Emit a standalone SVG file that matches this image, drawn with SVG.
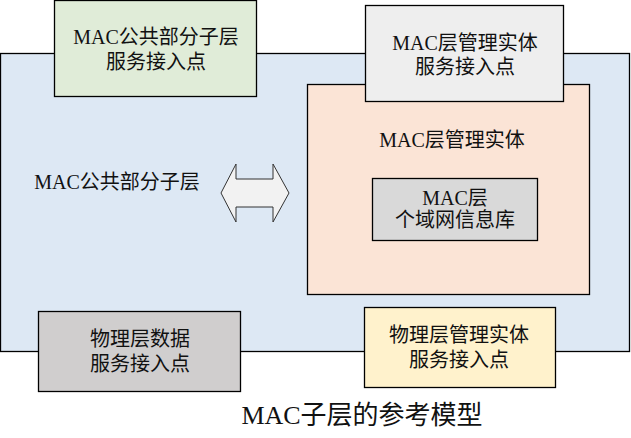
<svg xmlns="http://www.w3.org/2000/svg" width="631" height="438" viewBox="0 0 631 438">
<style>
.b{stroke:#000;stroke-width:1.3}
.t{font-family:"Liberation Serif","Noto Sans CJK SC",serif;font-size:20px;fill:#111;text-anchor:middle}
</style>
<rect width="631" height="438" fill="#fff"/>
<g id="mac-common">
<rect class="b" x="0.5" y="53.5" width="629" height="298" fill="#dde8f4"/>
<text class="t" x="117" y="189">MAC公共部分子层</text>
</g>
<g id="mac-mgmt">
<rect class="b" x="307.5" y="84.5" width="282" height="210" fill="#fbe4d6"/>
<text class="t" x="452" y="147">MAC层管理实体</text>
</g>
<g id="mac-sap">
<rect class="b" x="54.5" y="0.5" width="202" height="96" fill="#e0ecd8"/>
<text class="t" x="156" y="44">MAC公共部分子层</text>
<text class="t" x="156" y="69">服务接入点</text>
</g>
<g id="mlme-sap">
<rect class="b" x="365.5" y="5.5" width="198" height="96" fill="#eeeeee"/>
<text class="t" x="465" y="50">MAC层管理实体</text>
<text class="t" x="465" y="74">服务接入点</text>
</g>
<g id="pib">
<rect class="b" x="372.5" y="178.5" width="165" height="62" fill="#d9d9d9"/>
<text class="t" x="455" y="205">MAC层</text>
<text class="t" x="455" y="227">个域网信息库</text>
</g>
<g id="phy-data-sap">
<rect class="b" x="38.5" y="311.5" width="202" height="80" fill="#d0cece"/>
<text class="t" x="140" y="346">物理层数据</text>
<text class="t" x="140" y="371">服务接入点</text>
</g>
<g id="phy-mgmt-sap">
<rect class="b" x="364.5" y="307.5" width="191" height="80" fill="#fff2cc"/>
<text class="t" x="459" y="342">物理层管理实体</text>
<text class="t" x="459" y="367">服务接入点</text>
</g>
<g id="connectors">
<path d="M221,193 L236,164 L236,179 L273,179 L273,164 L289,193 L273,222 L273,207 L236,207 L236,222 Z" fill="#f2f2f2" stroke="#333" stroke-width="1"/>
</g>
<text x="362" y="424" style="font-family:'Liberation Serif','Noto Sans CJK SC',serif;font-size:26px;fill:#111;text-anchor:middle">MAC子层的参考模型</text>
</svg>
